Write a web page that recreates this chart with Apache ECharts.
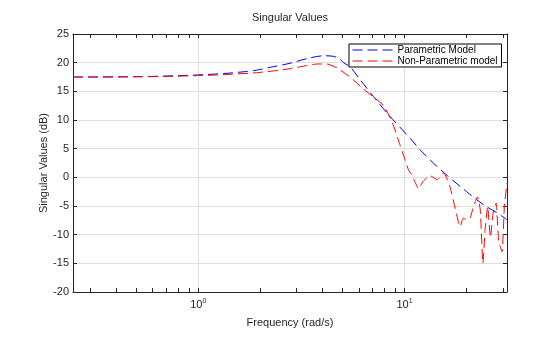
<!DOCTYPE html>
<html>
<head>
<meta charset="utf-8">
<script src="https://cdn.jsdelivr.net/npm/echarts@6/dist/echarts.min.js"></script>
<style>
html,body{margin:0;padding:0;background:#fff;}
#chart{width:560px;height:337px;}
</style>
</head>
<body>
<div id="chart"></div>
<script>
// ---- data ----
const seriesNames = ['Parametric Model', 'Non-Parametric model'];

const paramFreq = [0.247, 0.5, 0.91, 1.32, 1.65, 1.92, 2.31, 2.79, 3.36, 4.05, 4.53, 4.87, 5.06, 5.44, 6.1, 7.07, 8.37, 10.66, 11.9, 13.8, 16.0, 20.0, 24.2, 28.1, 31.4];
const paramDb   = [17.5, 17.55, 17.8, 18.1, 18.4, 18.7, 19.3, 19.9, 20.7, 21.2, 21.1, 20.6, 20.0, 19.3, 17.0, 14.1, 10.9, 6.8, 4.8, 2.5, 0.4, -2.5, -4.8, -6.2, -7.4];

const nonParamFreq = [0.247, 0.3, 0.5, 0.7, 1.0, 1.32, 1.92, 2.5, 2.79, 3.36, 3.76, 4.2, 4.7, 5.44, 6.32, 7.07, 7.92, 8.7, 9.5, 10.08, 10.45, 10.86, 11.3, 11.7, 12.3, 13.3, 14.4, 15.5, 16.6, 17.6, 18.6, 19.3, 20.0, 20.8, 21.6, 22.6, 23.3, 24.0, 24.6, 25.3, 26.1, 26.9, 27.8, 28.6, 29.7, 30.5, 31.4];
const nonParamDb   = [17.5, 17.5, 17.55, 17.6, 17.75, 17.9, 18.25, 18.7, 18.96, 19.5, 19.77, 19.77, 19.1, 17.5, 15.4, 14.0, 12.5, 9.7, 5.7, 3.0, 1.3, 0.4, -1.0, -2.0, -0.7, 0.3, -0.4, 0.8, -1.6, -5.4, -8.6, -7.1, -7.4, -7.1, -5.1, -3.4, -5.7, -15, -9, -5.1, -10.5, -6.2, -4.5, -11, -13, -5, -1.0];

const freqMin = 0.247;
const freqMax = 31.4;
const xTickValues = [0.3, 0.4, 0.5, 0.6, 0.7, 0.8, 0.9, 1, 2, 3, 4, 5, 6, 7, 8, 9, 10, 20, 30];
const xLabelValues = [1, 10];
const yMin = -20, yMax = 25, yStep = 5;

// ---- chart ----
const FONT = 'Liberation Sans, Arial, Helvetica, sans-serif';
const TXT = '#262626';
const GRIDC = '#dfdfdf';

function pairs(xs, ys) { return xs.map((x, i) => [x, ys[i]]); }

const chart = echarts.init(document.getElementById('chart'), null, {renderer: 'canvas'});

const xBase = {
  type: 'log', logBase: 10, min: freqMin, max: freqMax,
  axisLine: {show: true, onZero: false, lineStyle: {color: '#262626', width: 1}},
  axisTick: {show: true, inside: true, length: 4, customValues: xTickValues, lineStyle: {color: '#262626'}},
  splitLine: {show: false}
};

const option = {
  animation: false,
  backgroundColor: '#ffffff',
  textStyle: {fontFamily: FONT},
  title: {
    text: 'Singular Values', left: 290, top: 12, textAlign: 'center', padding: 0,
    textStyle: {fontSize: 11, fontWeight: 'normal', color: TXT, fontFamily: FONT}
  },
  legend: {
    orient: 'vertical', left: 349, top: 44,
    data: seriesNames,
    backgroundColor: '#ffffff', borderColor: '#000000', borderWidth: 1, borderRadius: 0,
    padding: [1, 4, 1, 3], itemGap: 1, itemWidth: 40, itemHeight: 10,
    itemStyle: {opacity: 0},
    lineStyle: {width: 1},
    textStyle: {fontSize: 10, color: '#000', fontFamily: FONT}
  },
  grid: {left: 73, right: 53, top: 34, bottom: 45, containLabel: false},
  xAxis: [
    Object.assign({}, xBase, {
      position: 'bottom',
      name: 'Frequency (rad/s)', nameLocation: 'middle', nameGap: 25, nameMoveOverlap: false,
      nameTextStyle: {fontSize: 11, color: TXT, fontFamily: FONT},
      axisLabel: {
        show: true, customValues: xLabelValues, margin: 6, color: TXT,
        formatter: function (v) { return '{b|10}{s|' + Math.round(Math.log10(v)) + '}'; },
        rich: {
          b: {fontSize: 11, color: TXT, fontFamily: FONT, lineHeight: 13},
          s: {fontSize: 7, color: TXT, fontFamily: FONT, verticalAlign: 'top', lineHeight: 13, padding: [0, 0, 6, 0]}
        }
      }
    }),
    Object.assign({}, xBase, {position: 'top', axisLabel: {show: false}}),
    {
      type: 'log', logBase: 10, min: freqMin, max: freqMax, position: 'bottom',
      axisLine: {show: false}, axisLabel: {show: false},
      axisTick: {show: false, customValues: xLabelValues},
      splitLine: {show: true, lineStyle: {color: GRIDC, width: 1}}
    }
  ],
  yAxis: [
    {
      type: 'value', position: 'left', min: yMin, max: yMax, interval: yStep,
      name: 'Singular Values (dB)', nameLocation: 'middle', nameGap: 24, nameRotate: 90, nameMoveOverlap: false,
      nameTextStyle: {fontSize: 11, color: TXT, fontFamily: FONT},
      axisLine: {show: true, onZero: false, lineStyle: {color: '#262626'}},
      axisTick: {show: true, inside: true, length: 4, lineStyle: {color: '#262626'}},
      axisLabel: {fontSize: 11, color: TXT, margin: 4, fontFamily: FONT},
      splitLine: {show: true, lineStyle: {color: GRIDC, width: 1}}
    },
    {
      type: 'value', position: 'right', min: yMin, max: yMax, interval: yStep,
      axisLine: {show: true, onZero: false, lineStyle: {color: '#262626'}},
      axisTick: {show: true, inside: true, length: 4, lineStyle: {color: '#262626'}},
      axisLabel: {show: false},
      splitLine: {show: false}
    }
  ],
  series: [
    {
      name: seriesNames[0], type: 'line', xAxisIndex: 0, yAxisIndex: 0,
      data: pairs(paramFreq, paramDb), smooth: 0.3, symbol: 'none',
      color: '#0000ff',
      lineStyle: {color: '#0000ff', width: 1, type: [10, 5]}
    },
    {
      name: seriesNames[1], type: 'line', xAxisIndex: 0, yAxisIndex: 0,
      data: pairs(nonParamFreq, nonParamDb), smooth: 0.15, symbol: 'none',
      color: '#ff0000',
      lineStyle: {color: '#ff0000', width: 1, type: [10, 5]}
    }
  ]
};
chart.setOption(option);
</script>
</body>
</html>
